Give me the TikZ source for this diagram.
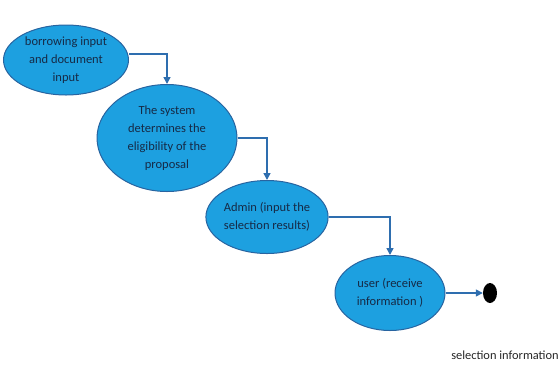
\documentclass[tikz,border=0pt]{standalone}
\usepackage{fontspec}
\setmainfont{Carlito}
\usetikzlibrary{arrows.meta,shapes.geometric}
\definecolor{statefill}{RGB}{29,160,224}
\definecolor{stateedge}{RGB}{40,100,160}
\definecolor{statetext}{RGB}{22,42,70}
\definecolor{flowline}{RGB}{46,110,175}
\tikzset{
  state/.style={ellipse, draw=stateedge, line width=1pt, fill=statefill,
    text=statetext, align=center, inner sep=0pt, font=\fontsize{12.5}{18}\selectfont},
  flow/.style={draw=flowline, line width=1.5pt, -{Triangle[length=7pt,width=7pt]}},
}
\begin{document}
\begin{tikzpicture}[x=1pt,y=-1pt]
\useasboundingbox (0,0) rectangle (559,368);
\node[state, minimum width=125pt, minimum height=70pt] (s1) at (66,60)
  {borrowing input\\and document\\input};
\node[state, minimum width=140pt, minimum height=107pt] (s2) at (167,138)
  {The system\\determines the\\eligibility of the\\proposal};
\node[state, minimum width=111pt, minimum height=73pt] (s3) at (267,217)
  {Admin (input the\\selection results)};
\node[state, minimum width=110pt, minimum height=75pt] (s4) at (390,293)
  {user (receive\\information )};
\node[ellipse, fill=black, minimum width=14pt, minimum height=20pt, inner sep=0pt] (end) at (490,293) {};
\node[font=\fontsize{12.4}{14}\selectfont, text=black!85, anchor=center] (lbl) at (505,355) {selection information};
\draw[flow] (s1.east |- 0,54) -| (s2.north);
\draw[flow] (s2.east) -| (s3.north);
\draw[flow] (s3.east) -| (s4.north);
\draw[flow] (s4.east) -- (end.west);
\end{tikzpicture}
\end{document}
